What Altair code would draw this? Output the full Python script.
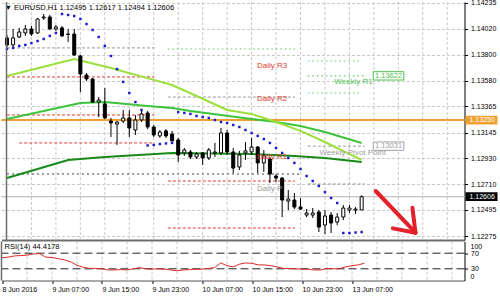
import altair as alt
import pandas as pd

FONT = "Liberation Sans"

TITLE = "▼ EURUSD,H1 1.12495 1.12617 1.12494 1.12606"
RSI_TITLE = "RSI(14) 44.4178"

# ---------------- candles (hourly bars, bar 0 = 8 Jun 23:00) ----------------
OPEN = [1.13941, 1.13882, 1.13949, 1.13983, 1.14016, 1.13983, 1.14109, 1.14117, 1.14016, 1.14025,
        1.13974, 1.13974, 1.13789, 1.13629, 1.13596, 1.13402, 1.13386, 1.13242, 1.13217, 1.13242,
        1.13268, 1.13167, 1.13251, 1.13310, 1.13192, 1.13117, 1.13159, 1.13133, 1.13083, 1.12974,
        1.12982, 1.12940, 1.12974, 1.12932, 1.12974, 1.12974, 1.13142, 1.12982, 1.12856, 1.12974,
        1.12982, 1.13024, 1.12890, 1.12923, 1.12780, 1.12763, 1.12570, 1.12578, 1.12519, 1.12452,
        1.12452, 1.12477, 1.12368, 1.12452, 1.12393, 1.12435, 1.12494, 1.12494, 1.12495]
HIGH = [1.13966, 1.14016, 1.14025, 1.14050, 1.14042, 1.14109, 1.14142, 1.14134, 1.14050, 1.14042,
        1.14016, 1.14016, 1.13798, 1.13646, 1.13604, 1.13444, 1.13520, 1.13268, 1.13242, 1.13335,
        1.13335, 1.13293, 1.13335, 1.13327, 1.13209, 1.13167, 1.13175, 1.13159, 1.13100, 1.13016,
        1.12999, 1.12982, 1.12982, 1.13016, 1.13058, 1.13184, 1.13167, 1.13016, 1.12991, 1.13066,
        1.13100, 1.13032, 1.12999, 1.12940, 1.12797, 1.12771, 1.12662, 1.12637, 1.12595, 1.12502,
        1.12511, 1.12494, 1.12494, 1.12477, 1.12469, 1.12536, 1.12536, 1.12519, 1.12617]
LOW = [1.13865, 1.13865, 1.13941, 1.13958, 1.13958, 1.13974, 1.14092, 1.14008, 1.14000, 1.13949,
       1.13907, 1.13789, 1.13486, 1.13579, 1.13394, 1.13276, 1.13259, 1.13108, 1.13041, 1.13226,
       1.13108, 1.13125, 1.13234, 1.13175, 1.13108, 1.13100, 1.13100, 1.13070, 1.12898, 1.12949,
       1.12923, 1.12923, 1.12873, 1.12915, 1.12940, 1.12957, 1.12957, 1.12805, 1.12830, 1.12915,
       1.12957, 1.12805, 1.12814, 1.12721, 1.12730, 1.12435, 1.12494, 1.12502, 1.12494, 1.12435,
       1.12427, 1.12309, 1.12292, 1.12301, 1.12368, 1.12410, 1.12469, 1.12460, 1.12494]
CLOSE = [1.13882, 1.13941, 1.13991, 1.14016, 1.13974, 1.14100, 1.14117, 1.14016, 1.14033, 1.13958,
         1.13970, 1.13798, 1.13638, 1.13596, 1.13402, 1.13419, 1.13268, 1.13226, 1.13234, 1.13268,
         1.13184, 1.13251, 1.13302, 1.13192, 1.13125, 1.13150, 1.13117, 1.13075, 1.12957, 1.12999,
         1.12940, 1.12965, 1.12932, 1.12999, 1.12982, 1.13142, 1.12982, 1.12847, 1.12957, 1.12991,
         1.13024, 1.12890, 1.12949, 1.12797, 1.12763, 1.12578, 1.12587, 1.12519, 1.12502, 1.12469,
         1.12469, 1.12351, 1.12444, 1.12385, 1.12435, 1.12511, 1.12511, 1.12502, 1.12606]

# Parabolic SAR
SAR = [1.13848, 1.13857, 1.13874, 1.13882, 1.13898, 1.13915, 1.13932, 1.13958, 1.13983, 1.14142,
       1.14134, 1.14125, 1.14100, 1.14058, 1.14008, 1.13949, 1.13874, 1.13789, 1.13679, 1.13571,
       1.13478, 1.13402, 1.13335, 1.13037, 1.13041, 1.13049, 1.13054, 1.13058, 1.13318, 1.13310,
       1.13302, 1.13285, 1.13276, 1.13268, 1.13251, 1.13234, 1.13226, 1.13209, 1.13192, 1.13167,
       1.13142, 1.13117, 1.13091, 1.13058, 1.13016, 1.12974, 1.12932, 1.12890, 1.12839, 1.12780,
       1.12738, 1.12696, 1.12645, 1.12595, 1.12553, 1.12301, 1.12301, 1.12305, 1.12309]

# RSI(14)
RSI = [58, 60, 63, 64, 65, 68, 69, 60, 59, 56,
       53, 48, 39, 34, 31, 31, 30, 27, 27, 28,
       27, 30, 33, 30, 29, 30, 29, 27, 25, 27,
       28, 29, 29, 31, 33, 45, 38, 35, 42, 45,
       44, 40, 40, 38, 35, 31, 31, 30, 29, 29,
       27, 27, 31, 30, 30, 35, 38, 40, 44.4178]

# moving averages (bar index, value)
MA_FAST_BAR = [0, 11, 17, 24, 27, 31, 36, 40, 42, 44, 48, 52, 55, 58]
MA_FAST = [1.13621, 1.13764, 1.13688, 1.13588, 1.13545, 1.13453, 1.13335, 1.13302, 1.13268,
           1.13234, 1.13159, 1.13066, 1.12990, 1.12915]
MA_MID_BAR = [0, 12, 16, 23, 27, 30, 40, 44, 48, 52, 58]
MA_MID = [1.13259, 1.13394, 1.13402, 1.13369, 1.13352, 1.13327, 1.13259, 1.13234, 1.13201,
          1.13150, 1.13058]
MA_SLOW_BAR = [0, 5, 10, 16, 27, 40, 47, 52, 58]
MA_SLOW = [1.12763, 1.12839, 1.12915, 1.12940, 1.12974, 1.12965, 1.12949, 1.12932, 1.12898]

# pivot level segments
PIV_START = [0, 0, 0, 2, 26.3, 26.3, 0, 26.3, 26.3, 49.2, 49.2, 49.2, 49.2, 49.2]
PIV_END = [24.1, 24.1, 24.1, 24.1, 47.1, 47.1, 48.1, 47.1, 47.1, 58, 58.8, 58, 58.5, 58.5]
PIV_PRICE = [1.13857, 1.13613, 1.13293, 1.13058, 1.13848, 1.13444, 1.12797, 1.12738, 1.12343,
             1.13747, 1.13622, 1.13478, 1.13031, 1.12713]
PIV_STYLE = ["grey", "red", "red", "red", "green", "grey", "thick", "red", "red",
             "green", "green", "green", "grey", "grey"]

# level lines across the chart
LEVEL_PRICE = 1.13250
LAST_PRICE = 1.12606

# labels inside the chart
LABEL_TEXT = ["Daily R3", "Daily R2", "Daily R1", "Daily P", "Weekly R1", "Weekly Pivot Point"]
LABEL_BAR = [40.9, 40.9, 40.9, 40.9, 53.5, 51.1]
LABEL_PRICE = [1.13705, 1.13428, 1.12940, 1.12671, 1.13571, 1.12974]
LABEL_COLOR = ["#E23A36", "#E23A36", "#E23A36", "#9A9A9A", "#4CBF4C", "#A0A0A0"]

BOX_PRICE = [1.13622, 1.13031]
BOX_START = [59.9, 59.9]
BOX_END = [64.9, 64.9]
BOX_COLOR = ["#4CBF4C", "#A0A0A0"]

TAG_PRICE = [LEVEL_PRICE, LAST_PRICE]
TAG_COLOR = ["#F0A030", "#000000"]

# red arrow (start bar, start price, end bar, end price)
ARROW_X1 = [60.3, 63.1, 66.3]
ARROW_Y1 = [1.12654, 1.12340, 1.12514]
ARROW_X2 = [66.8, 66.8, 66.8]
ARROW_Y2 = [1.12303, 1.12303, 1.12303]

PRICE_TICKS = [1.14235, 1.14020, 1.13800, 1.13580, 1.13365, 1.13145, 1.12930, 1.12710,
               1.12495, 1.12275]
GRID_BARS = [4, 8, 12, 16, 20, 24, 28, 32, 36, 40, 44, 48, 52, 56, 60, 64, 68, 72]
TIME_BARS = [0, 8, 16, 24, 32, 40, 48, 56]
TIME_LABELS = ["8 Jun 2016", "9 Jun 07:00", "9 Jun 15:00", "9 Jun 23:00",
               "10 Jun 07:00", "10 Jun 15:00", "10 Jun 23:00", "13 Jun 07:00"]
RSI_LEVELS = [70, 30]

# ---------------- layout ----------------
W, H_MAIN, H_RSI = 463, 238, 39
XDOM = [-0.08, 74.0]
YDOM = [1.12242, 1.14243]

x_scale = alt.Scale(domain=XDOM, nice=False, zero=False)
y_scale = alt.Scale(domain=YDOM, nice=False, zero=False)
r_scale = alt.Scale(domain=[0, 100], nice=False, zero=False)

AX_X_MAIN = alt.Axis(title=None, labels=False, ticks=False, grid=False, domain=True,
                     domainColor="#6E6E6E", domainWidth=2)
AX_Y_MAIN = alt.Axis(orient="right", title=None, values=PRICE_TICKS, format=".5f",
                     labelFontSize=7, labelFont=FONT, labelColor="#000", tickSize=3,
                     tickColor="#000", domainColor="#000", labelPadding=3, grid=True,
                     gridColor="#CACACA", gridDash=[3, 2], labelFlush=False,
                     labelOverlap=False)


def xq(f):
    return alt.X(f"{f}:Q", scale=x_scale, axis=AX_X_MAIN)


def yq(f):
    return alt.Y(f"{f}:Q", scale=y_scale, axis=AX_Y_MAIN)


BARS = list(range(len(OPEN)))
candles = pd.DataFrame({"bar": BARS, "open": OPEN, "high": HIGH, "low": LOW, "close": CLOSE})
candles["bull"] = candles["close"] >= candles["open"]

vgrid = alt.Chart(pd.DataFrame({"bar": GRID_BARS})).mark_rule(
    color="#CACACA", strokeDash=[3, 2], strokeWidth=1).encode(x=xq("bar"))

edge = alt.Chart(pd.DataFrame({"e": [XDOM[0]]})).mark_rule(
    color="#6E6E6E", strokeWidth=1.5).encode(x=xq("e"))

piv = pd.DataFrame({"start": PIV_START, "end": PIV_END, "price": PIV_PRICE, "style": PIV_STYLE})


def piv_layer(style, color, dash, width):
    return alt.Chart(piv).transform_filter(f"datum.style == '{style}'").mark_rule(
        color=color, strokeDash=dash, strokeWidth=width).encode(
        x=xq("start"), x2="end", y=yq("price"))


piv_layers = [
    piv_layer("red", "#E23A36", [3, 2], 1),
    piv_layer("grey", "#9A9A9A", [3, 2], 1),
    piv_layer("green", "#5CC85C", [1.5, 3], 1.2),
    piv_layer("thick", "#A0A0A0", [2, 3], 2.2),
]

levels = pd.DataFrame({"price": [LEVEL_PRICE, LAST_PRICE], "kind": ["level", "last"]})
orange_line = alt.Chart(levels).transform_filter("datum.kind == 'level'").mark_rule(
    color="#F0A030", strokeWidth=2).encode(y=yq("price"))
last_line = alt.Chart(levels).transform_filter("datum.kind == 'last'").mark_rule(
    color="#B4B4B4", strokeWidth=1).encode(y=yq("price"))


def ma_layer(bars, vals, color):
    return alt.Chart(pd.DataFrame({"bar": bars, "ma": vals})).mark_line(
        color=color, strokeWidth=2).encode(x=xq("bar"), y=yq("ma"))


ma_layers = [
    ma_layer(MA_SLOW_BAR, MA_SLOW, "#178A17"),
    ma_layer(MA_MID_BAR, MA_MID, "#3CC43C"),
    ma_layer(MA_FAST_BAR, MA_FAST, "#9BE03A"),
]

wicks = alt.Chart(candles).mark_rule(color="#000", strokeWidth=1).encode(
    x=xq("bar"), y=yq("low"), y2="high")
bodies = alt.Chart(candles).mark_bar(width=3, stroke="#000", strokeWidth=1).encode(
    x=xq("bar"), y=yq("open"), y2="close",
    fill=alt.condition("datum.bull", alt.value("#FFFFFF"), alt.value("#000000")))

sar = alt.Chart(pd.DataFrame({"bar": BARS, "sar": SAR})).mark_square(
    size=6, color="#1A1AD6", opacity=1).encode(x=xq("bar"), y=yq("sar"))

labels_df = pd.DataFrame({"bar": LABEL_BAR, "price": LABEL_PRICE, "text": LABEL_TEXT,
                          "color": LABEL_COLOR})
labels = alt.Chart(labels_df).mark_text(align="left", baseline="middle", fontSize=8).encode(
    x=xq("bar"), y=yq("price"), text="text:N", color=alt.Color("color:N", scale=None))

box_df = pd.DataFrame({"start": BOX_START, "end": BOX_END, "price": BOX_PRICE, "color": BOX_COLOR})
boxes = alt.Chart(box_df).transform_calculate(
    top="datum.price + 0.00035", bot="datum.price - 0.00035").mark_rect(
    fill="#FFFFFF", strokeWidth=1).encode(
    x=xq("start"), x2="end", y=yq("top"), y2="bot", stroke=alt.Stroke("color:N", scale=None))
box_text = alt.Chart(box_df).transform_calculate(
    mid="(datum.start + datum.end) / 2").mark_text(
    align="center", baseline="middle", fontSize=7.5).encode(
    x=xq("mid"), text=alt.Text("price:Q", format=".5f"), y=yq("price"),
    color=alt.Color("color:N", scale=None))

arrow = alt.Chart(pd.DataFrame({"x1": ARROW_X1, "y1": ARROW_Y1, "x2": ARROW_X2, "y2": ARROW_Y2})
                  ).mark_rule(color="#E4202A", strokeWidth=4, strokeCap="round").encode(
    x=xq("x1"), y=yq("y1"), x2="x2", y2="y2")

title = alt.Chart(pd.DataFrame({"t": [TITLE]})).mark_text(
    align="left", baseline="middle", fontSize=7.5, color="#000").encode(
    x=alt.value(3), y=alt.value(6), text="t:N")

tag_df = pd.DataFrame({"price": TAG_PRICE, "color": TAG_COLOR})
tags = alt.Chart(tag_df).transform_calculate(
    top="datum.price + 0.00037", bot="datum.price - 0.00037").mark_rect().encode(
    x=alt.value(464), x2=alt.value(496), y=yq("top"), y2="bot",
    fill=alt.Fill("color:N", scale=None))
tag_text = alt.Chart(tag_df).mark_text(align="left", baseline="middle", fontSize=7,
                                       color="#FFFFFF").encode(
    x=alt.value(468), y=yq("price"), text=alt.Text("price:Q", format=".5f"))

main = alt.layer(
    vgrid, *piv_layers, orange_line, last_line, *ma_layers, wicks, bodies, sar,
    labels, boxes, box_text, arrow, title, tags, tag_text, edge
).properties(width=W, height=H_MAIN)

# ---------------- RSI panel ----------------
label_expr = " : ".join(
    f"datum.value == {b} ? '{t}'" for b, t in zip(TIME_BARS, TIME_LABELS)) + " : ''"
AX_X_RSI = alt.Axis(title=None, values=TIME_BARS, labelExpr=label_expr, labelAlign="left",
                    labelFontSize=7, labelFont=FONT, labelColor="#000", tickSize=3,
                    tickColor="#000", labelPadding=2, domainColor="#555555", grid=False,
                    labelFlush=False, labelOverlap=False, labelBound=False)
AX_Y_RSI = alt.Axis(orient="right", title=None, values=RSI_LEVELS, labelFontSize=7,
                    labelFont=FONT, labelColor="#000", tickSize=3, tickColor="#000",
                    labelPadding=3, domainColor="#000", grid=False, labelFlush=False)


def rx(f):
    return alt.X(f"{f}:Q", scale=x_scale, axis=AX_X_RSI)


def ry(f):
    return alt.Y(f"{f}:Q", scale=r_scale, axis=AX_Y_RSI)


r_vgrid = alt.Chart(pd.DataFrame({"bar": GRID_BARS})).mark_rule(
    color="#CACACA", strokeDash=[3, 2], strokeWidth=1).encode(x=rx("bar"))
r_edge = alt.Chart(pd.DataFrame({"e": [XDOM[0]]})).mark_rule(
    color="#6E6E6E", strokeWidth=1.5).encode(x=rx("e"))
r_levels = alt.Chart(pd.DataFrame({"level": RSI_LEVELS})).mark_rule(
    color="#222222", strokeDash=[8, 4], strokeWidth=1).encode(y=ry("level"))
r_line = alt.Chart(pd.DataFrame({"bar": BARS, "rsi": RSI})).mark_line(
    color="#E02828", strokeWidth=1).encode(x=rx("bar"), y=ry("rsi"))
r_title = alt.Chart(pd.DataFrame({"t": [RSI_TITLE]})).mark_text(
    align="left", baseline="middle", fontSize=7.5, color="#000").encode(
    x=alt.value(3), y=alt.value(5), text="t:N")
r_ends = alt.Chart(pd.DataFrame({"v": [100, 0]}))
r_top = r_ends.transform_filter("datum.v == 100").mark_text(
    align="left", baseline="top", fontSize=7, dy=1, color="#000").encode(
    x=alt.value(469), y=ry("v"), text="v:Q")
r_bot = r_ends.transform_filter("datum.v == 0").mark_text(
    align="left", baseline="bottom", fontSize=7, dy=-1, color="#000").encode(
    x=alt.value(469), y=ry("v"), text="v:Q")

rsi = alt.layer(r_vgrid, r_levels, r_line, r_title, r_top, r_bot, r_edge).properties(
    width=W, height=H_RSI)

chart = alt.vconcat(main, rsi, spacing=1.5, bounds="flush").properties(
    padding={"left": -0.5, "top": -2, "right": 0, "bottom": 0},
    autosize=alt.AutoSizeParams(type="pad"),
    background="#FFFFFF",
).configure_view(stroke=None).configure_text(font=FONT)

chart.save("out.html", embed_options={"renderer": "svg", "actions": False})
